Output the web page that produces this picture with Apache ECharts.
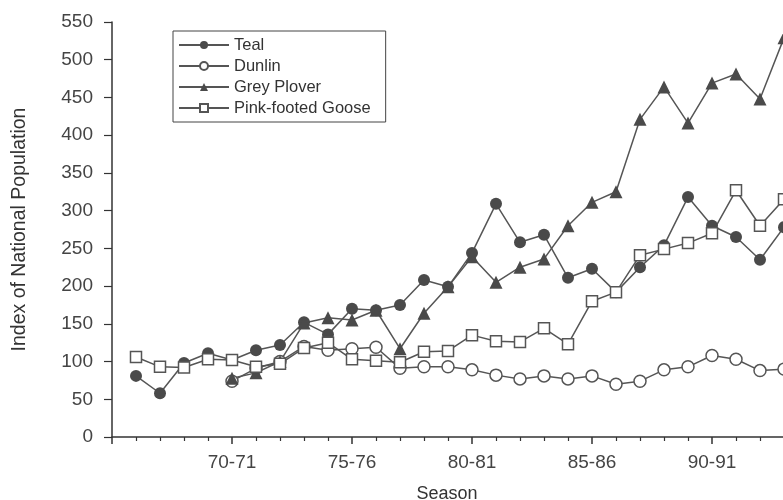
<!DOCTYPE html>
<html>
<head>
<meta charset="utf-8">
<script src="https://cdn.jsdelivr.net/npm/echarts@6/dist/echarts.min.js"></script>
<style>
  html, body { margin: 0; padding: 0; background: #fff; }
  #chart { width: 783px; height: 500px; }
</style>
</head>
<body>
<div id="chart"></div>
<script>
// season index 0 = 65-66, 1 = 66-67, ... 28 = 93-94
const seasonIdx = [1, 2, 3, 4, 5, 6, 7, 8, 9, 10, 11, 12, 13, 14, 15, 16, 17, 18, 19, 20, 21, 22, 23, 24, 25, 26, 27, 28];
const tickLabels = ['', '70-71', '75-76', '80-81', '85-86', '90-91'];

const teal = [81, 58, 98, 111, 102, 115, 122, 152, 136, 170, 168, 175, 208, 199, 244, 309, 258, 268, 211, 223, 192, 225, 254, 318, 280, 265, 235, 278];
const dunlin = [null, null, null, null, 74, 91, 100, 120, 115, 117, 119, 91, 93, 93, 89, 82, 77, 81, 77, 81, 70, 74, 89, 93, 108, 103, 88, 90];
const greyPlover = [null, null, null, null, 78, 85, 100, 151, 158, 155, 168, 117, 164, 199, 239, 205, 225, 236, 280, 311, 325, 421, 464, 416, 469, 481, 448, 529];
const pinkGoose = [106, 93, 92, 103, 102, 93, 97, 118, 125, 103, 101, 99, 113, 114, 135, 127, 126, 144, 123, 180, 192, 241, 249, 257, 270, 327, 280, 315];

function pairs(vals) {
  const out = [];
  for (let i = 0; i < vals.length; i++) {
    if (vals[i] !== null) out.push([seasonIdx[i], vals[i]]);
  }
  return out;
}

const lineColor = '#555';
const fillColor = '#4a4a4a';
const font = 'Liberation Sans, Arial, sans-serif';

function makeSeries(name, vals, symbol, size, filled) {
  return {
    name: name,
    type: 'line',
    data: pairs(vals),
    symbol: symbol,
    symbolSize: size,
    showAllSymbol: true,
    clip: false,
    lineStyle: { color: lineColor, width: 1.5 },
    itemStyle: {
      color: filled ? fillColor : '#fff',
      borderColor: filled ? fillColor : lineColor,
      borderWidth: filled ? 0 : 1.5,
    },
    emphasis: { disabled: true },
  };
}

var dom = document.getElementById('chart');
var myChart = echarts.init(dom, null, { renderer: 'canvas' });

var option = {
  animation: false,
  backgroundColor: '#fff',
  // axis runs to 95-96 (index 30); the picture is cut at 93-94
  grid: {
    left: 112, width: 720, top: 22, height: 415,
    containLabel: false,
    outerBoundsMode: 'none',
  },
  legend: {
    orient: 'vertical',
    left: 173,
    top: 31,
    padding: [5.5, 15, 5.5, 5],
    itemWidth: 50,
    itemHeight: 10,
    itemGap: 4,
    borderColor: '#444',
    borderWidth: 1,
    textStyle: { fontFamily: font, fontSize: 16.5, color: '#333' },
    data: ['Teal', 'Dunlin', 'Grey Plover', 'Pink-footed Goose'],
  },
  xAxis: {
    type: 'value',
    min: 0,
    max: 30,
    interval: 5,
    name: 'Season',
    nameLocation: 'middle',
    nameGap: 48,
    nameTextStyle: { fontFamily: font, fontSize: 18, color: '#333', padding: [0, 50, 0, 0] },
    splitLine: { show: false },
    axisLine: { show: true, lineStyle: { color: '#333', width: 1.5 } },
    axisTick: { show: true, length: 7, lineStyle: { color: '#333', width: 1.5 } },
    minorTick: { show: true, splitNumber: 5, length: 4, lineStyle: { color: '#333', width: 1.2 } },
    axisLabel: {
      fontFamily: font,
      fontSize: 19,
      color: '#444',
      margin: 16,
      formatter: function (v) {
        return v % 5 === 0 && tickLabels[v / 5] ? tickLabels[v / 5] : '';
      },
    },
  },
  yAxis: {
    type: 'value',
    min: 0,
    max: 550,
    interval: 50,
    name: 'Index of National Population',
    nameLocation: 'middle',
    nameGap: 82,
    nameTextStyle: { fontFamily: font, fontSize: 19.5, color: '#333' },
    splitLine: { show: false },
    axisLine: { show: true, lineStyle: { color: '#333', width: 1.5 } },
    axisTick: { show: true, length: 8, lineStyle: { color: '#333', width: 1.2 } },
    axisLabel: { fontFamily: font, fontSize: 19, color: '#444', margin: 19 },
  },
  series: [
    makeSeries('Teal', teal, 'circle', 12, true),
    makeSeries('Dunlin', dunlin, 'circle', 12, false),
    makeSeries('Grey Plover', greyPlover, 'triangle', 13, true),
    makeSeries('Pink-footed Goose', pinkGoose, 'rect', 11, false),
  ],
};

myChart.setOption(option);
window.addEventListener('resize', myChart.resize);
</script>
</body>
</html>
